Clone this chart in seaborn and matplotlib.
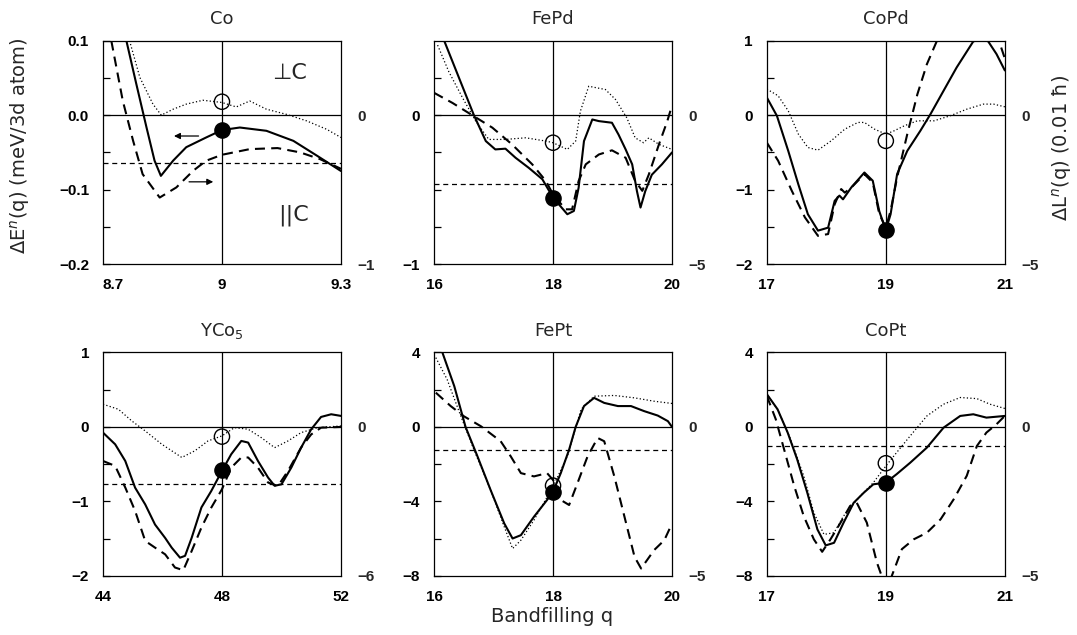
import matplotlib
matplotlib.use("Agg")
import matplotlib.pyplot as plt
import seaborn as sns

# ---------------- data ----------------
# Co
co_q_solid = [8.759, 8.784, 8.81, 8.83, 8.846, 8.877, 8.91, 8.96, 9.0, 9.045, 9.112, 9.18, 9.24, 9.3]
co_solid = [0.1, 0.042, -0.017, -0.061, -0.0815, -0.061, -0.043, -0.030, -0.020, -0.0166, -0.021, -0.0345, -0.0546, -0.075]
co_q_dash = [8.721, 8.75, 8.776, 8.80, 8.843, 8.885, 8.927, 8.96, 9.0, 9.07, 9.14, 9.197, 9.247, 9.3]
co_dash = [0.5, 0.096, -0.172, -0.396, -0.553, -0.485, -0.374, -0.306, -0.266, -0.228, -0.221, -0.25, -0.295, -0.36]
co_q_dot = [8.767, 8.793, 8.826, 8.847, 8.877, 8.91, 8.952, 9.0, 9.036, 9.07, 9.112, 9.163, 9.213, 9.264, 9.3]
co_dot = [0.1, 0.0506, 0.0148, 0.0, 0.008, 0.0148, 0.020, 0.017, 0.011, 0.019, 0.008, 0.001, -0.0076, -0.019, -0.030]
co_hline = -0.32
co_open = 0.018
co_full = -0.020

# FePd
fepd_q_solid = [16.17, 16.42, 16.67, 16.87, 17.03, 17.2, 17.37, 17.59, 17.82, 18.0, 18.24, 18.35, 18.43, 18.52,
                18.66, 18.77, 18.99, 19.1, 19.22, 19.33, 19.41, 19.47, 19.55, 19.66, 19.83, 20.0]
fepd_solid = [0.5, 0.25, 0.0, -0.174, -0.23, -0.225, -0.286, -0.353, -0.43, -0.553, -0.665, -0.643, -0.487, -0.174,
              -0.029, -0.04, -0.051, -0.13, -0.23, -0.33, -0.51, -0.62, -0.51, -0.40, -0.33, -0.25]
fepd_q_dash = [16.0, 16.31, 16.64, 16.98, 17.31, 17.65, 17.88, 18.0, 18.21, 18.32, 18.43, 18.55, 18.77, 18.99,
               19.22, 19.38, 19.5, 19.61, 19.78, 19.92, 20.0]
fepd_dash = [0.75, 0.41, 0.0, -0.42, -0.98, -1.65, -2.21, -2.66, -3.16, -3.16, -2.21, -1.65, -1.32, -1.18,
             -1.43, -2.21, -2.54, -1.99, -0.98, -0.2, 0.33]
fepd_q_dot = [16.06, 16.25, 16.48, 16.7, 16.92, 17.2, 17.54, 17.88, 18.0, 18.24, 18.38, 18.46, 18.6, 18.88,
              19.05, 19.24, 19.38, 19.52, 19.61, 19.78, 20.0]
fepd_dot = [0.47, 0.29, 0.116, -0.04, -0.163, -0.163, -0.152, -0.174, -0.185, -0.23, -0.174, 0.027, 0.194, 0.172,
            0.105, -0.018, -0.152, -0.185, -0.152, -0.196, -0.23]
fepd_hline = -2.32
fepd_open = -0.185
fepd_full = -0.553

# CoPd
copd_q_solid = [17.0, 17.17, 17.36, 17.53, 17.69, 17.86, 18.03, 18.14, 18.22, 18.28, 18.42, 18.64, 18.78, 18.89,
                19.0, 19.08, 19.19, 19.36, 19.58, 19.75, 19.97, 20.19, 20.47, 20.62, 20.72, 20.86, 21.0]
copd_solid = [0.237, -0.01, -0.48, -0.93, -1.33, -1.55, -1.51, -1.15, -1.08, -1.13, -0.97, -0.77, -0.88, -1.29,
              -1.545, -1.33, -0.79, -0.48, -0.21, 0.013, 0.327, 0.64, 0.99, 1.02, 0.99, 0.82, 0.6]
copd_q_dash = [17.0, 17.19, 17.42, 17.64, 17.86, 18.03, 18.14, 18.25, 18.31, 18.42, 18.64, 18.78, 18.89, 19.0,
               19.08, 19.19, 19.36, 19.53, 19.69, 19.86, 20.1, 20.5, 20.85, 21.0]
copd_dash = [-0.92, -1.53, -2.54, -3.43, -4.05, -3.99, -2.99, -2.48, -2.6, -2.43, -1.98, -2.26, -3.32, -3.77,
             -3.21, -2.09, -0.64, 0.70, 1.71, 2.5, 3.4, 3.6, 2.8, 1.9]
copd_q_dot = [17.0, 17.19, 17.36, 17.53, 17.69, 17.86, 18.08, 18.31, 18.53, 18.64, 18.81, 19.0, 19.14, 19.31,
              19.53, 19.81, 20.08, 20.36, 20.64, 20.81, 21.0]
copd_dot = [0.35, 0.26, 0.058, -0.255, -0.434, -0.47, -0.345, -0.188, -0.098, -0.098, -0.188, -0.255, -0.21, -0.143,
            -0.076, -0.076, -0.009, 0.08, 0.148, 0.148, 0.112]
copd_hline = None
copd_open = -0.345
copd_full = -1.545

# YCo5
yco5_q_solid = [44.0, 44.41, 44.75, 45.08, 45.42, 45.75, 46.09, 46.31, 46.59, 46.76, 46.98, 47.31, 47.64, 48.0,
                48.31, 48.65, 48.88, 49.21, 49.55, 49.77, 50.0, 50.33, 50.66, 51.0, 51.33, 51.67, 52.0]
yco5_solid = [-0.076, -0.233, -0.457, -0.815, -1.04, -1.31, -1.49, -1.62, -1.755, -1.73, -1.49, -1.08, -0.86, -0.59,
              -0.367, -0.188, -0.21, -0.457, -0.68, -0.79, -0.77, -0.546, -0.278, -0.031, 0.134, 0.17, 0.148]
yco5_q_dash = [44.0, 44.41, 44.75, 45.08, 45.42, 45.75, 46.09, 46.42, 46.7, 46.98, 47.31, 47.64, 48.0, 48.31,
               48.65, 48.88, 49.21, 49.55, 49.88, 50.22, 50.66, 51.0, 51.33, 52.0]
yco5_dash = [-1.37, -1.57, -2.44, -3.38, -4.59, -4.86, -5.13, -5.66, -5.77, -5.0, -4.05, -3.25, -2.51, -1.64,
             -1.23, -1.23, -1.64, -2.24, -2.38, -1.77, -0.83, -0.3, -0.03, 0.0]
yco5_q_dot = [44.0, 44.52, 44.97, 45.42, 45.98, 46.65, 47.09, 47.53, 48.0, 48.42, 48.88, 49.32, 49.77, 50.22,
              50.66, 51.22, 52.0]
yco5_dot = [0.305, 0.237, 0.08, -0.054, -0.233, -0.41, -0.32, -0.188, -0.12, -0.009, -0.031, -0.143, -0.278, -0.188,
            -0.076, -0.009, 0.013]
yco5_hline = -2.28
yco5_open = -0.13
yco5_full = -0.58

# FePt
fept_q_solid = [16.14, 16.34, 16.53, 16.73, 16.95, 17.18, 17.32, 17.46, 17.68, 17.9, 18.0, 18.13, 18.27, 18.38,
                18.52, 18.69, 18.86, 19.09, 19.31, 19.53, 19.76, 19.93, 20.0]
fept_solid = [4.0, 2.19, 0.0, -1.58, -3.38, -5.18, -5.99, -5.81, -4.82, -3.92, -3.47, -2.48, -1.22, 0.0,
              1.12, 1.56, 1.29, 1.12, 1.12, 0.85, 0.61, 0.31, 0.0]
fept_q_dash = [16.03, 16.28, 16.5, 16.79, 17.12, 17.29, 17.46, 17.68, 17.9, 18.0, 18.13, 18.27, 18.41, 18.58,
               18.75, 18.86, 19.03, 19.2, 19.37, 19.48, 19.7, 19.87, 20.0]
fept_dash = [1.15, 0.70, 0.36, 0.02, -0.48, -0.99, -1.55, -1.66, -1.55, -1.78, -2.45, -2.62, -1.89, -0.99,
             -0.37, -0.48, -1.66, -3.01, -4.36, -4.75, -4.13, -3.8, -3.24]
fept_q_dot = [16.03, 16.22, 16.45, 16.67, 16.95, 17.18, 17.32, 17.46, 17.68, 18.0, 18.24, 18.47, 18.69, 19.03,
              19.37, 19.7, 20.0]
fept_dot = [3.72, 2.55, 0.58, -1.22, -3.38, -5.36, -6.53, -6.08, -5.0, -3.2, -1.58, 0.94, 1.65, 1.69,
            1.56, 1.38, 1.26]
fept_hline = -0.76
fept_open = -3.15
fept_full = -3.47

# CoPt
copt_q_solid = [17.0, 17.18, 17.35, 17.51, 17.68, 17.85, 17.99, 18.13, 18.29, 18.46, 18.63, 18.79, 19.0, 19.18,
                19.41, 19.69, 19.97, 20.25, 20.47, 20.69, 21.0]
copt_solid = [1.76, 0.95, -0.30, -1.74, -3.53, -5.5, -6.36, -6.22, -5.14, -4.07, -3.53, -3.08, -2.99, -2.54,
              -1.92, -1.11, -0.04, 0.59, 0.68, 0.5, 0.59]
copt_q_dash = [17.0, 17.15, 17.29, 17.46, 17.62, 17.79, 17.93, 18.07, 18.24, 18.4, 18.51, 18.68, 18.85, 18.93,
               19.0, 19.1, 19.27, 19.47, 19.69, 19.92, 20.14, 20.36, 20.53, 20.69, 20.86, 21.0]
copt_dash = [1.04, 0.26, -0.75, -1.98, -2.99, -3.77, -4.19, -3.77, -3.21, -2.65, -2.54, -3.21, -4.55, -5.0,
             -6.5, -5.0, -4.1, -3.77, -3.55, -3.1, -2.43, -1.64, -0.64, -0.19, 0.09, 0.37]
copt_q_dot = [17.0, 17.18, 17.4, 17.62, 17.79, 17.96, 18.13, 18.29, 18.57, 18.79, 19.0, 19.18, 19.41, 19.69,
              19.97, 20.25, 20.53, 20.75, 21.0]
copt_dot = [1.76, 0.95, -0.66, -2.63, -4.6, -5.77, -5.68, -4.78, -3.71, -2.99, -2.1, -1.38, -0.48, 0.59,
            1.22, 1.58, 1.52, 1.22, 0.99]
copt_hline = -0.64
copt_open = -1.95
copt_full = -3.0

# panel titles, axis ranges and tick labels
titles = ["Co", "FePd", "CoPd", "YCo$_5$", "FePt", "CoPt"]
centers = [9.0, 18.0, 19.0, 48.0, 18.0, 19.0]
xlims = [(8.7, 9.3), (16, 20), (17, 21), (44, 52), (16, 20), (17, 21)]
xmajor = [[8.7, 9.0, 9.3], [16, 18, 20], [17, 19, 21], [44, 48, 52], [16, 18, 20], [17, 19, 21]]
xmajor_labels = [["8.7", "9", "9.3"], ["16", "18", "20"], ["17", "19", "21"],
                 ["44", "48", "52"], ["16", "18", "20"], ["17", "19", "21"]]
xminor = [[8.8, 8.9, 9.1, 9.2], [17, 19], [18, 20], [46, 50], [17, 19], [18, 20]]
ylims_left = [(-0.2, 0.1), (-1, 0.5), (-2, 1), (-2, 1), (-8, 4), (-8, 4)]
ymajor_left = [[-0.2, -0.1, 0.0, 0.1], [-1, 0], [-2, -1, 0, 1], [-2, -1, 0, 1], [-8, -4, 0, 4], [-8, -4, 0, 4]]
ymajor_left_labels = [["\u22120.2", "\u22120.1", "0.0", "0.1"], ["\u22121", "0"], ["\u22122", "\u22121", "0", "1"],
                      ["\u22122", "\u22121", "0", "1"], ["\u22128", "\u22124", "0", "4"], ["\u22128", "\u22124", "0", "4"]]
yminor_left = [[-0.15, -0.05, 0.05], [-0.75, -0.5, -0.25, 0.25], [-1.5, -0.5, 0.5],
               [-1.5, -0.5, 0.5], [-6, -2, 2], [-6, -2, 2]]
ylims_right = [(-1, 0.5), (-5, 2.5), (-5, 2.5), (-6, 3), (-5, 2.5), (-5, 2.5)]
yticks_right = [[-1, 0], [-5, 0], [-5, 0], [-6, 0], [-5, 0], [-5, 0]]
yticks_right_labels = [["\u22121", "0"], ["\u22125", "0"], ["\u22125", "0"], ["\u22126", "0"],
                       ["\u22125", "0"], ["\u22125", "0"]]

panels = [
    (co_q_solid, co_solid, co_q_dash, co_dash, co_q_dot, co_dot, co_hline, co_open, co_full),
    (fepd_q_solid, fepd_solid, fepd_q_dash, fepd_dash, fepd_q_dot, fepd_dot, fepd_hline, fepd_open, fepd_full),
    (copd_q_solid, copd_solid, copd_q_dash, copd_dash, copd_q_dot, copd_dot, copd_hline, copd_open, copd_full),
    (yco5_q_solid, yco5_solid, yco5_q_dash, yco5_dash, yco5_q_dot, yco5_dot, yco5_hline, yco5_open, yco5_full),
    (fept_q_solid, fept_solid, fept_q_dash, fept_dash, fept_q_dot, fept_dot, fept_hline, fept_open, fept_full),
    (copt_q_solid, copt_solid, copt_q_dash, copt_dash, copt_q_dot, copt_dot, copt_hline, copt_open, copt_full),
]

# ---------------- drawing ----------------
sns.set_style("white")
plt.rcParams["font.family"] = ["DejaVu Sans"]
plt.rcParams["mathtext.fontset"] = "dejavusans"

TICKFONT = dict(family="Liberation Sans", weight="bold", size=11)

fig = plt.figure(figsize=(10.77, 6.35), dpi=100)

lefts = [0.0956, 0.403, 0.712]
bottoms = [0.584, 0.093]
w, h = 0.221, 0.352

for i, (qs, s, qd, d, qo, o, hl, op, fu) in enumerate(panels):
    r, c = divmod(i, 3)
    ax = fig.add_axes([lefts[c], bottoms[r], w, h])
    ax2 = ax.twinx()
    ax.set_facecolor("white")

    ax.set_xlim(*xlims[i])
    ax.set_ylim(*ylims_left[i])
    ax2.set_ylim(*ylims_right[i])

    ax.axhline(0, color="black", lw=0.9, zorder=1)
    ax.axvline(centers[i], color="black", lw=0.9, zorder=1)

    sns.lineplot(x=qs, y=s, ax=ax, color="black", lw=1.5, estimator=None, legend=False, zorder=3)
    sns.lineplot(x=qo, y=o, ax=ax, color="black", lw=0.9, linestyle=(0, (1, 1.8)),
                 estimator=None, legend=False, zorder=3)
    sns.lineplot(x=qd, y=d, ax=ax2, color="black", lw=1.5, linestyle=(0, (4.8, 3.0)),
                 estimator=None, legend=False, zorder=3)
    if hl is not None:
        ax2.axhline(hl, color="black", lw=0.9, linestyle=(0, (4, 3)))

    ax.scatter([centers[i]], [op], s=120, facecolors="none", edgecolors="black", linewidths=1.0, zorder=5)
    ax.scatter([centers[i]], [fu], s=120, color="black", zorder=6)

    ax.set_xticks(xmajor[i])
    ax.set_xticklabels(xmajor_labels[i], fontdict=TICKFONT)
    ax.set_xticks(xminor[i], minor=True)
    ax.set_yticks(ymajor_left[i])
    ax.set_yticklabels(ymajor_left_labels[i], fontdict=TICKFONT)
    ax.set_yticks(yminor_left[i], minor=True)
    ax.tick_params(axis="both", which="both", direction="in", length=5, width=0.9,
                   top=False, right=False, colors="black", pad=10)
    if i == 0:
        ax.get_xticklabels()[0].set_horizontalalignment("left")

    ax2.set_yticks(yticks_right[i])
    ax2.set_yticklabels(yticks_right_labels[i], fontdict=TICKFONT)
    ax2.tick_params(axis="y", which="both", length=0, pad=12)
    ax2.grid(False)
    ax.grid(False)

    for sp in ax.spines.values():
        sp.set_color("black")
        sp.set_linewidth(0.9)
        sp.set_visible(True)
    for sp in ax2.spines.values():
        sp.set_visible(False)

    ax.set_xlabel("")
    ax.set_ylabel("")
    ax2.set_ylabel("")
    ax.set_title(titles[i], fontsize=13, pad=12)

    if i == 0:
        ax.annotate("", xy=(8.872, -0.028), xytext=(8.948, -0.028),
                    arrowprops=dict(arrowstyle="-|>", color="black", lw=0.9, mutation_scale=9))
        ax.annotate("", xy=(8.985, -0.0895), xytext=(8.91, -0.0895),
                    arrowprops=dict(arrowstyle="-|>", color="black", lw=0.9, mutation_scale=9))
        ax.text(9.17, 0.057, "\u22a5C", fontsize=16, ha="center", va="center")
        ax.text(9.18, -0.135, "||C", fontsize=16, ha="center", va="center")

fig.text(20 / 1077, 1 - 146 / 635, "\u0394E$^n$(q) (meV/3d atom)", fontsize=14,
         rotation=90, ha="center", va="center")
fig.text(1062 / 1077, 1 - 148 / 635, "\u0394L$^n$(q) (0.01 \u0127)", fontsize=14,
         rotation=90, ha="center", va="center")
fig.text(552 / 1077, 1 - 617 / 635, "Bandfilling q", fontsize=14, ha="center", va="center")

fig.savefig("out.png", dpi=100, facecolor="white")
